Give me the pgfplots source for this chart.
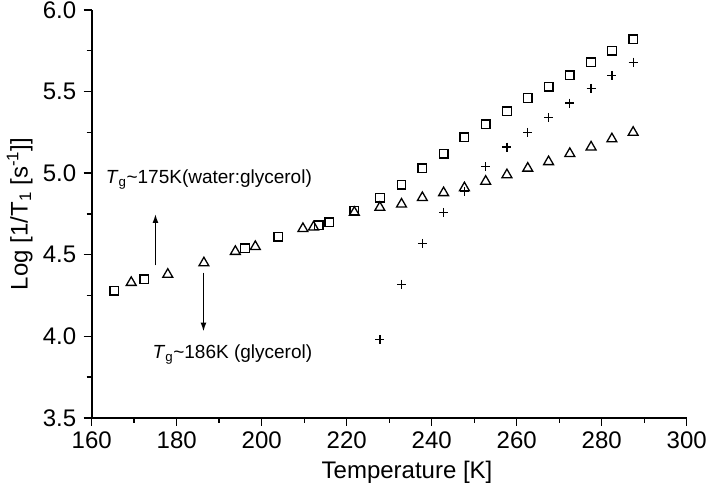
\documentclass[border=0pt]{standalone}
\usepackage{pgfplots}
\pgfplotsset{compat=1.18}
\usetikzlibrary{arrows.meta}
\usepackage{fontspec}
\setmainfont{Liberation Sans}
\begin{document}
\begin{tikzpicture}
\begin{axis}[
  scale only axis,
  width=595pt, height=408pt,
  xmin=160, xmax=300, ymin=3.5, ymax=6.0,
  axis x line*=bottom, axis y line*=left,
  axis line style={line width=1.8pt},
  tick align=outside,
  major tick length=8pt, minor tick length=5pt,
  every tick/.style={black, line width=1.4pt},
  xtick={160,180,...,300}, minor xtick={170,190,...,290},
  ytick={3.5,4.0,...,6.0}, minor ytick={3.75,4.25,...,5.75},
  /pgf/number format/assume math mode=true,
  tick label style={font=\fontsize{24}{28}\selectfont},
  yticklabel style={xshift=-4pt, /pgf/number format/.cd, fixed, fixed zerofill, precision=1},
  xticklabel style={yshift=-2pt, /pgf/number format/.cd, fixed, precision=0},
  label style={font=\fontsize{24}{28}\selectfont},
  xlabel={Temperature [K]},
  ylabel={Log [1/T\textsubscript{1} [s\textsuperscript{-1}]]},
  ylabel style={at={(axis description cs:-0.121,0.5)}, anchor=center},
  xlabel style={at={(axis description cs:0.53,-0.1325)}, anchor=center},
  clip=false,
]
% squares
\addplot[only marks, mark=square, mark size=4.3pt, mark options={line width=1.3pt}] coordinates {
(165.3,4.28) (172.4,4.35) (196.1,4.54) (203.9,4.61) (213.4,4.68) (215.9,4.70)
(221.8,4.77) (227.8,4.85) (232.9,4.93) (237.8,5.03) (242.8,5.12) (247.7,5.22)
(252.7,5.30) (257.7,5.38) (262.6,5.46) (267.5,5.53) (272.5,5.60) (277.5,5.68)
(282.4,5.75) (287.4,5.82)
};
% plus
\addplot[only marks, mark=+, mark size=4.5pt, mark options={line width=1.3pt}] coordinates {
(227.8,3.98) (232.9,4.32) (237.8,4.57) (242.8,4.76) (247.7,4.89) (252.7,5.04)
(257.7,5.16) (262.6,5.25) (267.5,5.34) (272.5,5.43) (277.5,5.52) (282.4,5.60)
(287.4,5.68)
};
% triangles
\addplot[only marks, mark=triangle, mark size=5.7pt, mark options={line width=1.3pt}] coordinates {
(169.3,4.33) (177.9,4.38) (186.4,4.45) (193.8,4.52) (198.5,4.55) (209.7,4.66)
(212.2,4.67) (221.8,4.76) (227.8,4.79) (232.9,4.81) (237.8,4.85) (242.8,4.88)
(247.7,4.91) (252.7,4.95) (257.7,4.99) (262.6,5.03) (267.5,5.07) (272.5,5.12)
(277.5,5.16) (282.4,5.21) (287.4,5.25)
};
\draw[-{Latex[length=9pt,width=6pt]}, line width=1.4pt] (axis cs:175,4.435) -- (axis cs:175,4.75);
\draw[-{Latex[length=9pt,width=6pt]}, line width=1.4pt] (axis cs:186.3,4.39) -- (axis cs:186.3,4.03);
\node[anchor=west, font=\fontsize{19}{22}\selectfont, inner sep=0pt] at (axis cs:163.3,4.96)
  {\textit{T}\textsubscript{g}\textasciitilde175K(water:glycerol)};
\node[anchor=west, font=\fontsize{19}{22}\selectfont, inner sep=0pt] at (axis cs:174.3,3.89)
  {\textit{T}\textsubscript{g}\textasciitilde186K (glycerol)};
\end{axis}
\pgfresetboundingbox
\path[use as bounding box] ([shift={(-91.7pt,-68pt)}]current axis.south west) rectangle ([shift={(20.3pt,10pt)}]current axis.north east);
\end{tikzpicture}
\end{document}
